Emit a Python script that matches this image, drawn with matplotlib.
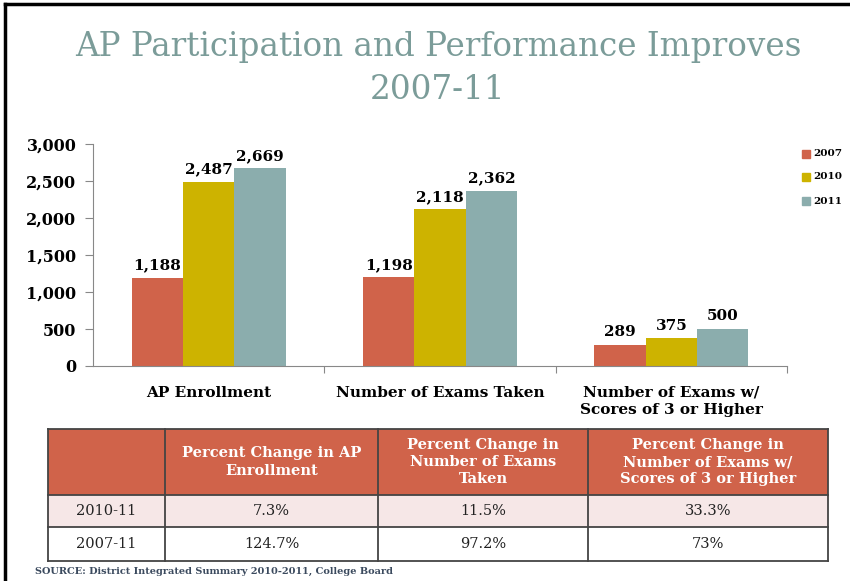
import numpy as np
import matplotlib.pyplot as plt
from matplotlib.patches import Rectangle

# data
categories = ["AP Enrollment", "Number of Exams Taken", "Number of Exams w/\nScores of 3 or Higher"]
years = ["2007", "2010", "2011"]
v2007 = [1188, 1198, 289]
v2010 = [2487, 2118, 375]
v2011 = [2669, 2362, 500]
yticks = [0, 500, 1000, 1500, 2000, 2500, 3000]

tbl_header = ["", "Percent Change in AP\nEnrollment", "Percent Change in\nNumber of Exams\nTaken",
              "Percent Change in\nNumber of Exams w/\nScores of 3 or Higher"]
tbl_rows = ["2010-11", "2007-11"]
tbl_vals = [["7.3%", "11.5%", "33.3%"],
            ["124.7%", "97.2%", "73%"]]

colors = ["#D0634A", "#CDB300", "#8BADAD"]
serif = "DejaVu Serif"

W, H = 850, 581
fig = plt.figure(figsize=(8.5, 5.81), dpi=100)

def fx(px):
    return px / W

def fy(py):
    return 1 - py / H

# frame lines (left and top)
fig.add_artist(plt.Line2D([fx(5), fx(5)], [0, fy(4)], color="black", lw=2.5))
fig.add_artist(plt.Line2D([fx(5), 1], [fy(4), fy(4)], color="black", lw=2.5))

# title
fig.text(fx(438), fy(47), "AP Participation and Performance Improves", ha="center", va="center",
         fontsize=23.5, color="#7B9C99", family=serif)
fig.text(fx(438), fy(90), "2007-11", ha="center", va="center",
         fontsize=23.5, color="#7B9C99", family=serif)

# bar chart
ax = fig.add_axes([fx(93), fy(366), fx(787 - 93), (366 - 144) / H])
x = np.arange(len(categories))
bw = 0.222
series = [v2007, v2010, v2011]
for i, vals in enumerate(series):
    bars = ax.bar(x + (i - 1) * bw, vals, bw, color=colors[i], label=years[i])
    for b, v in zip(bars, vals):
        ax.text(b.get_x() + b.get_width() / 2, v + 75, f"{v:,}", ha="center", va="bottom",
                fontsize=11, fontweight="bold", family=serif)

ax.set_xlim(-0.5, 2.5)
ax.set_ylim(0, 3000)
ax.set_yticks(yticks)
ax.set_yticklabels([f"{t:,}" for t in yticks], fontsize=11.5, fontweight="bold", family=serif)
ax.set_xticks([0.5, 1.5, 2.5])
ax.set_xticklabels([])
ax.tick_params(axis="x", length=5, color="#888888", direction="out")
ax.tick_params(axis="y", length=6, color="#888888", pad=6)
for s in ["top", "right"]:
    ax.spines[s].set_visible(False)
ax.spines["left"].set_color("#888888")
ax.spines["bottom"].set_color("#888888")
for xi, c in zip(x, categories):
    ax.text(xi, -270, c, ha="center", va="top", fontsize=11, fontweight="bold", family=serif,
            transform=ax.transData, linespacing=1.3)

# legend
leg_y = [154, 177, 201]
for yy, col, yr in zip(leg_y, colors, years):
    fig.add_artist(Rectangle((fx(802), fy(yy + 4)), fx(8), 8 / H, color=col))
    fig.text(fx(813), fy(yy), yr, ha="left", va="center", fontsize=7.5, fontweight="bold", family=serif)

# table
cols = [48, 165, 378, 588, 828]
rows = [429, 495, 527, 561]
fill = ["#D0634A", "#F6E7E7", "#FFFFFF"]
for r in range(3):
    fig.add_artist(Rectangle((fx(cols[0]), fy(rows[r + 1])), fx(cols[-1] - cols[0]),
                             (rows[r + 1] - rows[r]) / H, facecolor=fill[r], edgecolor="none"))
for py in rows:
    fig.add_artist(plt.Line2D([fx(cols[0]), fx(cols[-1])], [fy(py), fy(py)], color="#444444", lw=1.3))
for px in cols:
    fig.add_artist(plt.Line2D([fx(px), fx(px)], [fy(rows[0]), fy(rows[-1])], color="#444444", lw=1.3))

for j, h in enumerate(tbl_header):
    if h:
        fig.text(fx((cols[j] + cols[j + 1]) / 2), fy((rows[0] + rows[1]) / 2), h, ha="center",
                 va="center", color="white", fontsize=10.5, fontweight="bold", family=serif,
                 linespacing=1.3)
for r, (lab, vals) in enumerate(zip(tbl_rows, tbl_vals)):
    yc = fy((rows[r + 1] + rows[r + 2]) / 2)
    fig.text(fx((cols[0] + cols[1]) / 2), yc, lab, ha="center", va="center", fontsize=10.5,
             family=serif, color="#222222")
    for j, v in enumerate(vals):
        fig.text(fx((cols[j + 1] + cols[j + 2]) / 2), yc, v, ha="center", va="center",
                 fontsize=10.5, family=serif, color="#222222")

# source line
fig.text(fx(35), fy(567), "SOURCE: District Integrated Summary 2010-2011, College Board",
         ha="left", va="top", fontsize=7, fontweight="bold", family=serif, color="#3B4A5E")

fig.savefig("out.png", dpi=100)
